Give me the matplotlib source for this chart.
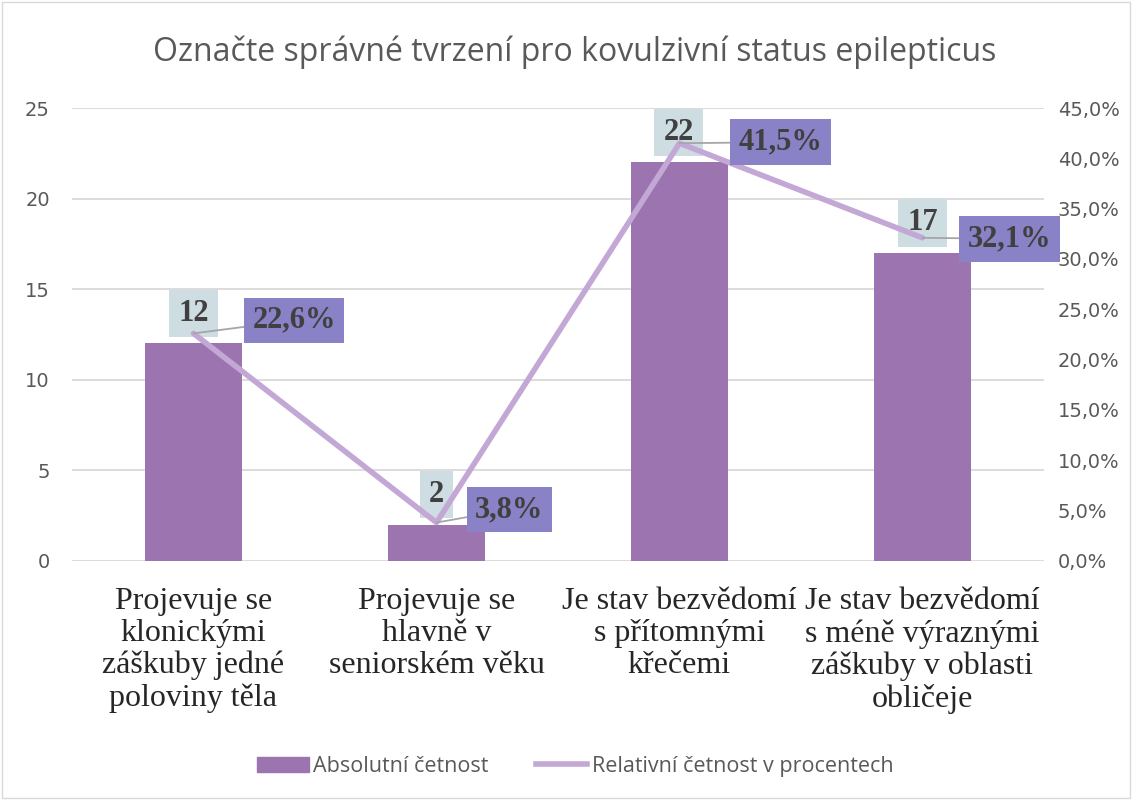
import numpy as np
import matplotlib.pyplot as plt
from matplotlib.ticker import FuncFormatter
from matplotlib.patches import Rectangle, Patch
from matplotlib.lines import Line2D

categories = [
    "Projevuje se\nklonickými\nzáškuby jedné\npoloviny těla",
    "Projevuje se\nhlavně v\nseniorském věku",
    "Je stav bezvědomí\ns přítomnými\nkřečemi",
    "Je stav bezvědomí\ns méně výraznými\nzáškuby v oblasti\nobličeje",
]
absolute = [12, 2, 22, 17]
relative = [22.6, 3.8, 41.5, 32.1]

bar_color = "#9b74b0"
line_color = "#c3a8d6"
text_gray = "#595959"

fig = plt.figure(figsize=(11.32, 8), dpi=100)
ax = fig.add_axes([0.0636, 0.299, 0.8586, 0.566])
x = np.arange(len(categories))

ax.bar(x, absolute, width=0.4, color=bar_color, zorder=2)
ax.set_xlim(-0.5, len(categories) - 0.5)
ax.set_ylim(0, 25)
ax.set_yticks(range(0, 26, 5))
ax.grid(axis="y", color="#d9d9d9", linewidth=1.3, zorder=0)
for s in ax.spines.values():
    s.set_visible(False)
ax.tick_params(axis="y", length=0, labelsize=14, labelcolor=text_gray, pad=16)
ax.tick_params(axis="x", length=0, pad=19)
ax.set_xticks(x)
ax.set_xticklabels(categories, family="Liberation Serif", fontsize=23,
                   color="#262626", linespacing=1.13)

ax2 = ax.twinx()
ax2.plot(x, relative, color=line_color, linewidth=4, solid_capstyle="round", zorder=3)
ax2.set_ylim(0, 45)
ax2.set_yticks(range(0, 46, 5))
ax2.yaxis.set_major_formatter(FuncFormatter(lambda v, p: f"{v:.1f}".replace(".", ",") + "%"))
for s in ax2.spines.values():
    s.set_visible(False)
ax2.tick_params(axis="y", length=0, labelsize=14, labelcolor=text_gray, pad=10)

# count labels above the bars
count_dx = [0, 0, -1, 0]
for i, v in enumerate(absolute):
    ax.annotate(str(v), (x[i], v), xytext=(count_dx[i], 30), textcoords="offset pixels",
                ha="center", va="center", family="Liberation Serif", fontsize=22,
                fontweight="bold", color="#404040", zorder=5,
                bbox=dict(boxstyle="square,pad=0.3", fc="#cddde2", ec="none"))

# percent labels with leader lines
pct_off = [(101, 13), (73, 13), (101, 1), (87, -1)]
for i, v in enumerate(relative):
    ax2.annotate(f"{v:.1f}".replace(".", ",") + "%", (x[i], v), xytext=pct_off[i],
                 textcoords="offset pixels", ha="center", va="center",
                 family="Liberation Serif", fontsize=22, fontweight="bold",
                 color="#404040", zorder=6,
                 bbox=dict(boxstyle="square,pad=0.27", fc="#8a82c6", ec="none"),
                 arrowprops=dict(arrowstyle="-", color="#a6a6a6", lw=1.3,
                                 shrinkA=0, shrinkB=0))

fig.text(0.508, 0.935, "Označte správné tvrzení pro kovulzivní status epilepticus",
         ha="center", va="center", fontsize=23, color=text_gray, family="Open Sans")

handles = [Patch(color=bar_color), Line2D([], [], color=line_color, linewidth=4)]
fig.legend(handles, ["Absolutní četnost", "Relativní četnost v procentech"],
           loc="center", bbox_to_anchor=(0.508, 0.042), ncol=2, frameon=False,
           labelcolor=text_gray, handlelength=2.4, columnspacing=2.2,
           handletextpad=0.2, prop={"family": "Open Sans", "size": 15.5})

fig.patches.append(Rectangle((0.002, 0.003), 0.996, 0.994, transform=fig.transFigure,
                             fill=False, ec="#d9d9d9", lw=1))

fig.savefig("out.png", dpi=100)
